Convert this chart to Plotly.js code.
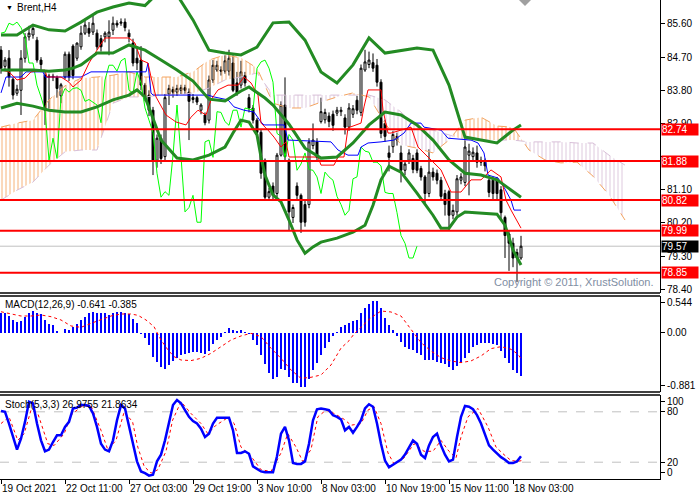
<!DOCTYPE html>
<html><head><meta charset="utf-8">
<script src="https://cdn.plot.ly/plotly-3.0.1.min.js"></script>
<style>html,body{margin:0;padding:0;background:#fff;}#chart{width:700px;height:500px;}</style>
</head><body><div id="chart"></div>
<script>
// ---------- data ----------
const tickIdx = [0,16,32,48,64,80,96,112,128];
const tickLabels = ['19 Oct 2021','22 Oct 11:00','27 Oct 03:00','29 Oct 19:00','3 Nov 10:00','8 Nov 03:00','10 Nov 19:00','15 Nov 11:00','18 Nov 03:00'];

const open = [84.89,84.45,84.67,84.10,83.72,83.80,84.67,85.25,85.30,85.16,
84.62,84.21,84.16,84.18,84.15,83.65,84.16,84.78,85.00,84.67,
84.98,85.35,85.48,85.38,85.35,85.20,85.25,85.25,85.43,85.62,
85.62,85.65,85.35,85.08,84.67,84.62,83.94,83.67,83.26,81.90,
82.50,82.00,83.70,83.82,83.75,83.80,83.87,83.75,83.60,83.60,
83.26,83.13,82.99,84.08,84.35,84.35,84.32,84.32,84.54,84.00,
83.94,84.20,83.60,83.32,82.99,82.66,81.90,80.90,81.20,81.00,
82.04,83.40,81.90,80.35,81.20,80.95,80.70,80.70,82.30,82.40,
82.95,83.00,83.10,83.15,83.18,83.22,83.05,82.80,83.15,83.53,
83.20,84.35,84.50,84.55,84.48,84.02,82.90,82.10,82.27,82.55,
82.10,81.63,81.90,81.95,82.10,81.68,81.45,81.00,81.58,81.55,
81.36,81.00,81.05,80.41,80.50,81.36,81.30,82.04,82.00,82.10,
81.90,81.85,81.36,81.36,81.36,81.10,80.35,79.90,79.65,79.40,
79.25];
const high = [85.00,84.70,84.89,84.15,83.95,84.89,85.35,85.55,85.55,85.25,
84.70,84.30,84.25,84.25,84.20,84.00,84.85,84.85,85.05,85.10,
85.55,85.70,85.65,85.84,85.45,85.30,85.40,85.70,85.80,85.70,
85.75,85.75,85.45,85.20,85.00,85.00,84.00,83.80,83.35,82.60,
82.60,83.70,83.95,83.90,83.95,83.95,83.95,83.85,83.70,83.65,
83.45,83.20,84.20,84.62,84.60,84.45,84.75,84.90,84.75,84.30,
84.60,84.30,83.70,83.40,83.05,82.75,81.95,81.15,81.30,82.10,
83.50,84.15,81.95,80.70,81.30,81.00,80.80,82.50,82.90,82.50,
83.60,83.30,83.20,83.25,83.35,83.35,83.15,83.45,83.40,83.65,
84.50,84.90,84.85,84.80,84.65,84.10,83.00,82.30,82.70,82.65,
82.30,81.90,82.20,82.05,82.20,81.75,81.50,82.20,81.70,81.65,
81.45,81.10,81.10,80.70,81.50,81.55,82.50,82.35,82.25,82.30,
82.00,81.95,81.40,81.45,81.45,81.20,80.40,80.00,79.80,79.50,
79.85];
const low = [84.25,84.35,83.90,83.55,83.65,83.13,84.55,85.15,85.20,84.55,
84.30,82.86,83.30,84.05,83.60,83.45,84.10,84.05,84.10,84.60,
84.90,85.30,85.25,85.30,84.90,84.85,85.10,84.75,85.30,85.50,
85.55,85.40,85.10,84.45,84.35,83.80,83.50,83.10,81.50,81.70,
81.80,81.90,83.40,83.60,83.65,83.70,83.70,82.45,83.45,83.40,
83.15,82.85,82.90,84.00,84.30,84.20,84.25,84.20,83.75,83.65,
83.85,83.90,83.20,82.90,82.55,81.40,80.80,80.80,80.80,80.90,
82.00,81.90,80.00,80.20,80.85,79.93,80.10,80.60,82.20,81.90,
82.90,82.90,82.80,82.70,83.10,83.10,82.60,82.70,83.05,83.15,
83.10,84.30,84.40,84.30,83.90,82.50,82.40,81.60,82.10,82.30,
81.30,81.50,81.80,81.55,81.55,81.35,80.70,80.90,81.35,81.25,
80.85,80.40,80.00,80.30,80.40,81.25,81.20,80.95,81.90,81.70,
81.75,81.60,80.90,80.85,80.80,80.30,79.25,78.90,79.00,78.60,
79.20];
const close = [84.40,84.62,84.16,83.67,83.83,84.67,85.25,85.35,85.48,84.62,
84.50,83.26,84.18,84.16,83.85,83.95,84.78,84.16,84.20,85.08,
85.35,85.57,85.35,85.62,84.98,84.98,85.35,85.38,85.62,85.57,
85.65,85.50,85.25,84.54,84.54,83.94,83.62,83.26,81.90,82.50,
81.95,83.60,83.85,83.75,83.85,83.87,83.80,83.50,83.55,83.48,
83.40,82.92,84.08,84.48,84.48,84.32,84.60,84.67,83.80,83.73,
84.30,84.00,83.32,82.99,82.66,81.55,80.90,81.05,80.95,82.04,
83.40,82.00,80.50,80.62,80.95,80.22,80.22,82.40,82.45,81.98,
83.22,83.20,82.95,82.85,83.26,83.26,82.80,83.32,83.30,83.26,
84.40,84.57,84.62,84.40,84.02,82.63,82.55,81.98,82.60,82.45,
81.63,81.80,82.10,81.65,81.63,81.45,81.00,81.58,81.45,81.36,
80.92,80.70,80.41,80.54,81.40,81.45,82.26,82.15,82.12,81.85,
81.85,81.75,81.03,81.00,81.00,80.48,79.86,79.65,79.25,79.25,
79.57];

// Bollinger bands (sampled)
const bbUpIdx = [0,4,8,12,16,20,24,28,32,36,40,44,48,52,56,60,64,68,72,76,80,84,88,92,96,100,104,108,112,116,120,124,128,130];
const bbUp = [85.30,85.30,85.57,85.44,85.41,85.65,85.92,86.06,86.17,86.10,86.52,86.39,85.71,84.89,84.81,84.76,84.97,85.63,85.65,85.16,84.30,84.00,84.49,85.22,84.81,84.89,84.95,84.89,83.94,82.53,82.45,82.37,82.72,82.86];
const bbMidIdx = [0,4,8,12,16,18,20,24,28,32,36,40,44,48,50,52,56,60,62,64,66,68,72,76,80,84,88,92,96,100,104,108,112,116,120,124,128,130];
const bbMid = [84.35,84.35,84.35,84.32,84.35,84.40,84.49,84.81,84.81,85.03,84.89,84.62,84.35,84.05,83.81,83.56,83.51,83.78,83.89,83.73,83.59,83.40,82.88,82.23,81.96,81.99,82.37,82.86,83.21,83.13,82.86,82.45,81.91,81.55,81.50,81.37,81.04,80.90];
const bbLowIdx = [0,4,8,12,16,20,24,28,32,34,36,40,44,48,52,56,58,60,62,64,65,66,68,70,72,74,76,78,80,84,88,91,93,95,97,100,104,108,110,112,114,116,124,126,128,130];
const bbLow = [83.32,83.45,83.37,83.26,83.21,83.21,83.35,83.54,83.67,83.81,83.62,82.45,81.96,81.91,82.04,82.26,82.64,82.99,82.94,82.59,81.99,81.50,80.96,80.77,80.28,79.74,79.38,79.55,79.68,79.79,79.95,80.14,80.68,81.37,81.74,81.58,81.01,80.41,80.06,80.06,80.36,80.50,80.44,80.14,79.47,79.06];

// Ichimoku
const tenkanIdx = [0,2,4,6,7.5,11,11.5,15,17,18,20,22,24,26,32,33.5,35,36.75,37.5,38.75,41.25,43.75,46.25,47.5,49.25,51.25,52.5,54.25,56.75,59.25,60.75,62.5,64.25,65,66.75,68.25,70,71.25,72,79.25,80,83.25,84.25,85.75,86.75,90,90.75,91.75,95,95.5,96.75,97.5,102.5,104.25,106.75,110,112.5,115,117.5,120,122.5,125,126.25,127.5,130];
const tenkan = [84.35,84.30,84.08,84.13,84.30,84.35,84.16,84.16,84.02,83.89,84.08,84.54,84.89,85.22,85.22,85.08,84.62,84.54,84.16,83.62,83.13,82.94,82.86,83.07,83.26,83.13,83.54,83.81,83.94,83.94,84.16,84.00,83.67,82.91,82.72,82.53,82.26,82.40,81.99,81.99,81.77,81.77,81.99,81.99,82.78,82.91,83.35,83.81,83.81,83.26,82.64,82.64,82.80,82.26,81.99,81.64,81.04,81.04,81.37,81.37,81.64,81.45,80.82,80.55,80.06];
const kijunIdx = [0,1.25,5,6.25,10.5,11,20,22.5,36.25,36.75,37.5,38,51.75,53.25,56.75,58.25,60.75,63.25,65,65.75,70.75,71.75,82.5,84.25,86.75,89.25,90,91.75,95,98.25,100.75,102.5,105,105.75,110,111.75,117.5,119.25,120.75,121.75,124.25,125.75,127.5,128.25,130];
const kijun = [83.73,84.16,84.16,84.30,84.30,84.16,84.16,84.30,84.30,84.54,83.73,83.67,83.67,83.62,83.54,83.35,83.26,83.21,82.94,82.86,82.86,82.45,82.40,82.18,82.04,82.04,82.26,82.37,82.40,82.45,82.64,82.91,82.91,82.80,82.72,82.50,82.45,82.37,82.10,81.50,81.42,81.17,80.82,80.55,80.55];
const kumoIdx = [0,4,8,12,16,20,24,28,32,36,40,44,48,52,56,60,64,68,72,76,80,84,88,92,96,100,104,108,112,116,120,124,128,132,136,140,144,148,152,156];
const senkouA = [82.80,82.91,82.99,83.54,83.92,84.13,84.16,84.21,84.30,84.16,84.16,84.16,84.30,84.62,84.76,84.68,84.40,83.45,83.32,83.32,83.48,83.62,83.73,83.62,82.91,82.32,82.23,82.10,82.45,82.99,83.07,82.83,82.80,82.18,81.91,81.83,81.85,81.47,80.96,80.28];
const senkouB = [80.82,81.09,81.31,81.77,82.13,82.18,82.18,83.45,83.62,83.62,83.67,83.67,83.73,83.86,84.08,84.16,84.27,83.67,83.67,83.67,83.67,83.67,83.67,83.67,83.54,83.21,82.80,82.72,82.59,82.45,82.45,82.45,82.45,82.40,82.40,82.40,82.37,82.37,82.04,81.77];
const chikouShift = 26;

// Levels
const levels = [82.74, 81.88, 80.82, 79.99, 78.85];
const bidPrice = 79.57;
const priceTicks = [85.60,84.70,83.80,82.90,82.00,81.10,80.20,79.30,78.40];
const priceTickText = ['85.60','84.70','83.80','82.90','','81.10','80.20','79.30','78.40'];

// MACD
const macdHist = [0.287,0.287,0.247,0.188,0.153,0.173,0.237,0.287,0.321,0.297,
0.272,0.188,0.124,0.114,0.030,-0.010,0.049,0.040,0.089,0.129,
0.188,0.237,0.287,0.307,0.297,0.287,0.287,0.262,0.287,0.307,
0.307,0.297,0.277,0.203,0.138,-0.020,-0.084,-0.183,-0.356,-0.430,
-0.514,-0.544,-0.480,-0.415,-0.381,-0.331,-0.317,-0.297,-0.292,-0.292,
-0.297,-0.317,-0.267,-0.173,-0.109,-0.059,0.005,0.064,0.040,0.030,
0.040,0.010,-0.020,-0.109,-0.183,-0.331,-0.465,-0.603,-0.692,-0.663,
-0.544,-0.554,-0.653,-0.742,-0.752,-0.811,-0.811,-0.692,-0.554,-0.455,
-0.331,-0.232,-0.134,-0.049,0.015,
0.089,0.109,0.148,0.173,0.188,0.287,0.371,0.420,0.470,0.470,
0.371,0.223,0.109,0.035,-0.049,-0.138,-0.208,-0.237,-0.257,-0.307,
-0.336,-0.406,-0.406,-0.406,-0.435,-0.455,-0.470,-0.504,-0.554,-0.495,
-0.455,-0.371,-0.297,-0.208,-0.188,-0.158,-0.148,-0.158,-0.173,-0.188,
-0.272,-0.371,-0.455,-0.554,-0.603,-0.643];
const macdSigIdx = [0,2.5,5,7.5,10,12.5,15,17.5,20,22.5,25,27.5,30,32.5,34.25,36.25,38.25,40,41.75,43.25,45,47.5,50,52.5,55,57.5,60,62.5,65,67.5,70,72.5,75,77.5,80,82.5,85,87,88.25,90,92.5,95,97.5,100,102.5,105,107.5,110,112.5,115,117.5,120,122.5,125,127.5,129.25,130];
const macdSig = [0.310,0.277,0.247,0.247,0.262,0.237,0.188,0.099,0.079,0.138,0.198,0.247,0.277,0.277,0.257,0.188,0.089,-0.109,-0.257,-0.356,-0.406,-0.415,-0.381,-0.307,-0.208,-0.109,-0.049,-0.010,-0.059,-0.232,-0.381,-0.554,-0.678,-0.663,-0.628,-0.480,-0.230,-0.120,-0.020,0.074,0.223,0.321,0.307,0.247,0.049,-0.148,-0.272,-0.371,-0.420,-0.445,-0.420,-0.346,-0.237,-0.208,-0.247,-0.321,-0.385];
const macdTicks = [0.445, 0, -0.791];
const macdTickText = ['0.544','0.00','-0.881'];

// Stochastic
const stochMain = [81,80,66,50,35,48,68,92,90,66,
46,33,35,44,52,52,62,68,84,85,
88,88,87,78,62,42,35,33,46,70,
88,84,62,42,21,9,7,4,5,21,
29,46,68,88,94,90,82,74,69,66,
60,50,54,66,73,73,73,73,58,31,
31,33,30,15,12,9,8,8,8,27,
54,62,46,19,18,18,21,42,70,83,
84,83,82,76,74,71,58,62,55,62,
70,84,89,86,66,42,22,14,17,19,
23,29,38,46,42,29,25,40,50,54,
40,29,21,23,50,74,87,86,83,76,
66,54,40,35,30,26,23,19,19,21,
27];
const stochSigIdx = [0,2,4.2,5.8,7.5,9.2,11.7,13.3,15.8,17.5,20,22.5,25,26.7,28.75,30.8,32.9,34.2,35.8,37.5,39.2,41.25,42.9,45,47.5,50,51.7,53.75,56.7,58.3,60,62.5,65,67.5,70,71.7,73.75,75.4,77.5,79.2,81.25,83.3,85.8,87.5,90,91.75,93.25,95,96.75,98.25,100.75,103.25,105.75,108,110,112,113.75,115,116.75,119.25,121.75,123.75,125.75,127.5,129.25,130.25];
const stochSig = [66,74,46,54,82,78,42,40,54,76,86,87,58,35,46,80,68,38,15,7,11,33,70,92,78,66,54,64,73,66,38,27,11,9,31,54,38,21,35,74,82,78,71,64,66,82,86,66,31,18,25,42,33,33,46,33,25,50,74,84,62,38,29,22,21,22];
const stochTicks = [92, 80, 20, 8.3];
const stochTickText = ['100','80','20','0'];
const stochLevels = [80, 20];

// ---------- build ----------
const bars = close.map((_, i) => i);
const chX = [], chY = [];
for (let i = chikouShift; i < close.length; i++) { chX.push(i - chikouShift); chY.push(close[i]); }

function cloudPolys(idx, a, b) {
  const up = {x: [], y: []}, dn = {x: [], y: []};
  const push = (t, xs, ys) => { t.x.push(...xs, null); t.y.push(...ys, null); };
  for (let k = 0; k < idx.length - 1; k++) {
    const x0 = idx[k], x1 = idx[k+1], a0 = a[k], a1 = a[k+1], b0 = b[k], b1 = b[k+1];
    const d0 = a0 - b0, d1 = a1 - b1;
    if (d0 >= 0 && d1 >= 0) push(up, [x0,x1,x1,x0,x0], [a0,a1,b1,b0,a0]);
    else if (d0 <= 0 && d1 <= 0) push(dn, [x0,x1,x1,x0,x0], [a0,a1,b1,b0,a0]);
    else {
      const t = d0 / (d0 - d1), xc = x0 + t*(x1-x0), yc = a0 + t*(a1-a0);
      const f = d0 > 0 ? up : dn, s = d0 > 0 ? dn : up;
      push(f, [x0,xc,x0,x0], [a0,yc,b0,a0]);
      push(s, [xc,x1,x1,xc], [yc,a1,b1,yc]);
    }
  }
  return {up, dn};
}
const cloud = cloudPolys(kumoIdx, senkouA, senkouB);
const cloudTrace = (c, col) => ({type:'scatter', mode:'lines', x:c.x, y:c.y, fill:'toself', fillcolor:'rgba(0,0,0,0)',
  fillpattern:{shape:'|', fgcolor:col, bgcolor:'rgba(0,0,0,0)', size:4, solidity:0.25, fgopacity:0.85},
  line:{width:0}, hoverinfo:'skip', xaxis:'x', yaxis:'y'});
const line = (x, y, col, w, dash, ya) => ({type:'scatter', mode:'lines', x, y, line:{color:col, width:w, dash:dash||'solid'}, hoverinfo:'skip', xaxis:'x', yaxis:ya||'y'});

const BB = '#238b23';
const traces = [
  cloudTrace(cloud.up, '#f4a460'),
  cloudTrace(cloud.dn, '#d8bfd8'),
  line(kumoIdx, senkouA, '#f4a460', 1, 'dash'),
  line(kumoIdx, senkouB, '#d8bfd8', 1, 'dash'),
  {type:'candlestick', x:bars, open, high, low, close, xaxis:'x', yaxis:'y', whiskerwidth:0,
   increasing:{line:{color:'#000', width:1}, fillcolor:'#fff'},
   decreasing:{line:{color:'#000', width:1}, fillcolor:'#000'}, hoverinfo:'skip'},
  line(chX, chY, '#00ff00', 1),
  line(kijunIdx, kijun, '#0000ff', 1),
  line(tenkanIdx, tenkan, '#ff0000', 1),
  line(bbUpIdx, bbUp, BB, 3),
  line(bbMidIdx, bbMid, BB, 3),
  line(bbLowIdx, bbLow, BB, 3),
  {type:'bar', x:bars, y:macdHist, marker:{color:'#0000ff', line:{width:0}}, width:0.65, xaxis:'x', yaxis:'y2', hoverinfo:'skip'},
  line(macdSigIdx, macdSig, '#ff0000', 1, 'dot', 'y2'),
  line(stochSigIdx, stochSig, '#ff0000', 1, 'dot', 'y3'),
  line(bars, stochMain, '#0000ff', 2.5, 'solid', 'y3')
];

const H = 479, W = 660;
const py = p => 1 - p / H;
const yAxisBase = {side:'right', anchor:'x', showgrid:false, zeroline:false, showline:true, linecolor:'#000', linewidth:1,
  ticks:'outside', ticklen:4, tickcolor:'#000', tickfont:{size:10, color:'#000'}, fixedrange:true};

const shapes = [];
levels.forEach(v => shapes.push({type:'line', xref:'paper', x0:0, x1:1, yref:'y', y0:v, y1:v, line:{color:'#ff0000', width:2}, layer:'above'}));
shapes.push({type:'line', xref:'paper', x0:0, x1:1, yref:'y', y0:bidPrice, y1:bidPrice, line:{color:'#c0c0c0', width:1}, layer:'below'});
stochLevels.forEach(v => shapes.push({type:'line', xref:'paper', x0:0, x1:1, yref:'y3', y0:v, y1:v, line:{color:'#c0c0c0', width:1, dash:'dash'}, layer:'below'}));
[293, 296, 392, 395].forEach(p => shapes.push({type:'line', xref:'paper', x0:0, x1:1, yref:'paper', y0:py(p), y1:py(p), line:{color:'#000', width:1.5}, layer:'above'}));
shapes.push({type:'path', xref:'paper', yref:'paper', path:`M ${519/W},1 L ${531/W},1 L ${525/W},${py(6)} Z`, fillcolor:'#a0a0a0', line:{width:0}});

const annotations = [];
levels.forEach(v => annotations.push({xref:'paper', x:1, xanchor:'left', xshift:1, yref:'y', y:v, yanchor:'middle', text:v.toFixed(2), showarrow:false,
  bgcolor:'#ff0000', font:{color:'#fff', size:10}, width:36, height:11, align:'left', borderpad:0}));
annotations.push({xref:'paper', x:1, xanchor:'left', xshift:1, yref:'y', y:bidPrice, yanchor:'middle', text:bidPrice.toFixed(2), showarrow:false,
  bgcolor:'#000', font:{color:'#fff', size:10}, width:36, height:11, align:'left', borderpad:0});
annotations.push({xref:'paper', yref:'paper', x:4/W, y:py(8), xanchor:'left', yanchor:'middle', text:'▼', showarrow:false, font:{size:7, color:'#000'}});
annotations.push({xref:'paper', yref:'paper', x:15/W, y:py(8), xanchor:'left', yanchor:'middle', text:'Brent,H4', showarrow:false, font:{size:10, color:'#000'}});
annotations.push({xref:'paper', yref:'paper', x:3/W, y:py(304), xanchor:'left', yanchor:'middle', text:'MACD(12,26,9) -0.641 -0.385', showarrow:false, font:{size:10, color:'#000'}});
annotations.push({xref:'paper', yref:'paper', x:3/W, y:py(404), xanchor:'left', yanchor:'middle', text:'Stoch(5,3,3) 26.9755 21.8634', showarrow:false, font:{size:10, color:'#000'}});
annotations.push({xref:'paper', yref:'paper', x:1, xshift:-4, y:py(282), xanchor:'right', yanchor:'middle', text:'Copyright © 2011, XrustSolution.', showarrow:false, font:{size:11, color:'#7f8ea3'}});

const layout = {
  width:700, height:500, margin:{l:0, r:40, t:0, b:21}, paper_bgcolor:'#fff', plot_bgcolor:'#fff', showlegend:false,
  font:{family:'Liberation Sans, Arial, sans-serif', size:10, color:'#000'},
  bargap:0,
  xaxis:{domain:[0,1], range:[-0.25,164.75], anchor:'y3', showgrid:false, zeroline:false, showline:true, linecolor:'#000', linewidth:1,
    ticks:'outside', ticklen:4, tickcolor:'#000', tickvals:tickIdx, ticktext:tickLabels, ticklabelposition:'outside right', tickangle:0,
    tickfont:{size:10, color:'#000'}, rangeslider:{visible:false}, fixedrange:true},
  yaxis:Object.assign({}, yAxisBase, {domain:[py(293),1], range:[78.30,86.25], tickvals:priceTicks, ticktext:priceTickText}),
  yaxis2:Object.assign({}, yAxisBase, {domain:[py(392),py(296)], range:[-0.881,0.544], tickvals:macdTicks, ticktext:macdTickText}),
  yaxis3:Object.assign({}, yAxisBase, {domain:[0,py(395)], range:[0,100], tickvals:stochTicks, ticktext:stochTickText}),
  shapes, annotations
};
Plotly.newPlot('chart', traces, layout, {staticPlot:true, displayModeBar:false});
</script></body></html>
